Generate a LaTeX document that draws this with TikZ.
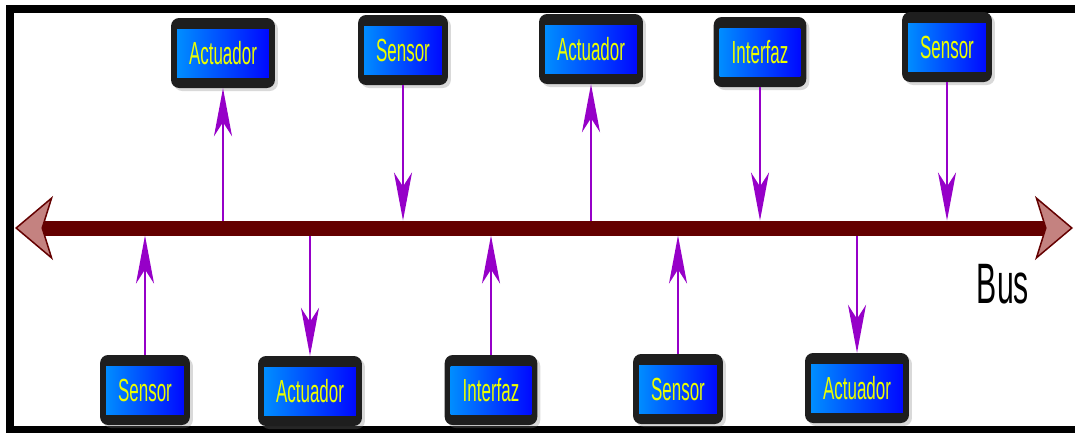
\documentclass[tikz,border=0pt]{standalone}
\usepackage{fontspec}
\newfontfamily\condfont[FakeStretch=0.53]{Liberation Sans}
\usetikzlibrary{arrows.meta, shadows}

\definecolor{busred}{RGB}{100,0,0}
\definecolor{buspink}{RGB}{196,130,128}
\definecolor{sigpurple}{RGB}{150,0,200}
\definecolor{boxdark}{RGB}{30,30,30}
\definecolor{lightblue}{RGB}{0,150,255}
\definecolor{deepblue}{RGB}{0,0,255}
\definecolor{labelyellow}{RGB}{235,255,0}

\begin{document}
\begin{tikzpicture}[x=1pt, y=-1pt,
    dev/.style={fill=boxdark, rounded corners=8pt, minimum height=70pt, inner xsep=18pt,
        text=labelyellow, font=\condfont\fontsize{32}{36}\selectfont,
        drop shadow={opacity=0.3, shadow xshift=3pt, shadow yshift=-3pt},
        path picture={\shade[sharp corners, left color=lightblue, right color=deepblue]
            ([xshift=6pt, yshift=11pt]path picture bounding box.south west) rectangle
            ([xshift=-6pt, yshift=-11pt]path picture bounding box.north east);}},
    sig/.style={draw=sigpurple, line width=2.5pt, -{Stealth[length=48pt, width=18pt, inset=14pt]}},
    bushead/.tip={Stealth[length=38pt, width=64pt, inset=10pt, fill=buspink, line width=1.5pt]}]

    \useasboundingbox (0,0) rectangle (1075,432);
    \draw[line width=8pt] (1085,8.5) -| (9.5,429.5) -- (1085,429.5);

    %define devices above the bus
    \node[dev] (a1) at (223,53) {Actuador};
    \node[dev] (s1) at (403,50) {Sensor};
    \node[dev] (a2) at (591,49) {Actuador};
    \node[dev] (i1) at (760,52) {Interfaz};
    \node[dev] (s2) at (947,47) {Sensor};

    %define devices below the bus
    \node[dev] (s3) at (145,390) {Sensor};
    \node[dev] (a3) at (310,391) {Actuador};
    \node[dev] (i2) at (491,390) {Interfaz};
    \node[dev] (s4) at (678,389) {Sensor};
    \node[dev] (a4) at (857,388) {Actuador};

    %define the bus
    \coordinate (busL) at (15,228);
    \coordinate (busR) at (1073,228);

    %define the links
    \draw[sig] (a1 |- busL) -- (a1);
    \draw[sig, shorten >=7.5pt] (s1) -- (s1 |- busL);
    \draw[sig] (a2 |- busL) -- (a2);
    \draw[sig, shorten >=7.5pt] (i1) -- (i1 |- busL);
    \draw[sig, shorten >=7.5pt] (s2) -- (s2 |- busL);
    \draw[sig, shorten >=7.5pt] (s3) -- (s3 |- busL);
    \draw[sig] (a3 |- busL) -- (a3);
    \draw[sig, shorten >=7.5pt] (i2) -- (i2 |- busL);
    \draw[sig, shorten >=7.5pt] (s4) -- (s4 |- busL);
    \draw[sig] (a4 |- busL) -- (a4);

    \draw[draw=busred, line width=15pt, bushead-bushead] (busL) -- (busR);
    \node[font=\condfont\fontsize{57}{60}\selectfont, anchor=base] (bus) at (1003,303) {Bus};

\end{tikzpicture}
\end{document}
